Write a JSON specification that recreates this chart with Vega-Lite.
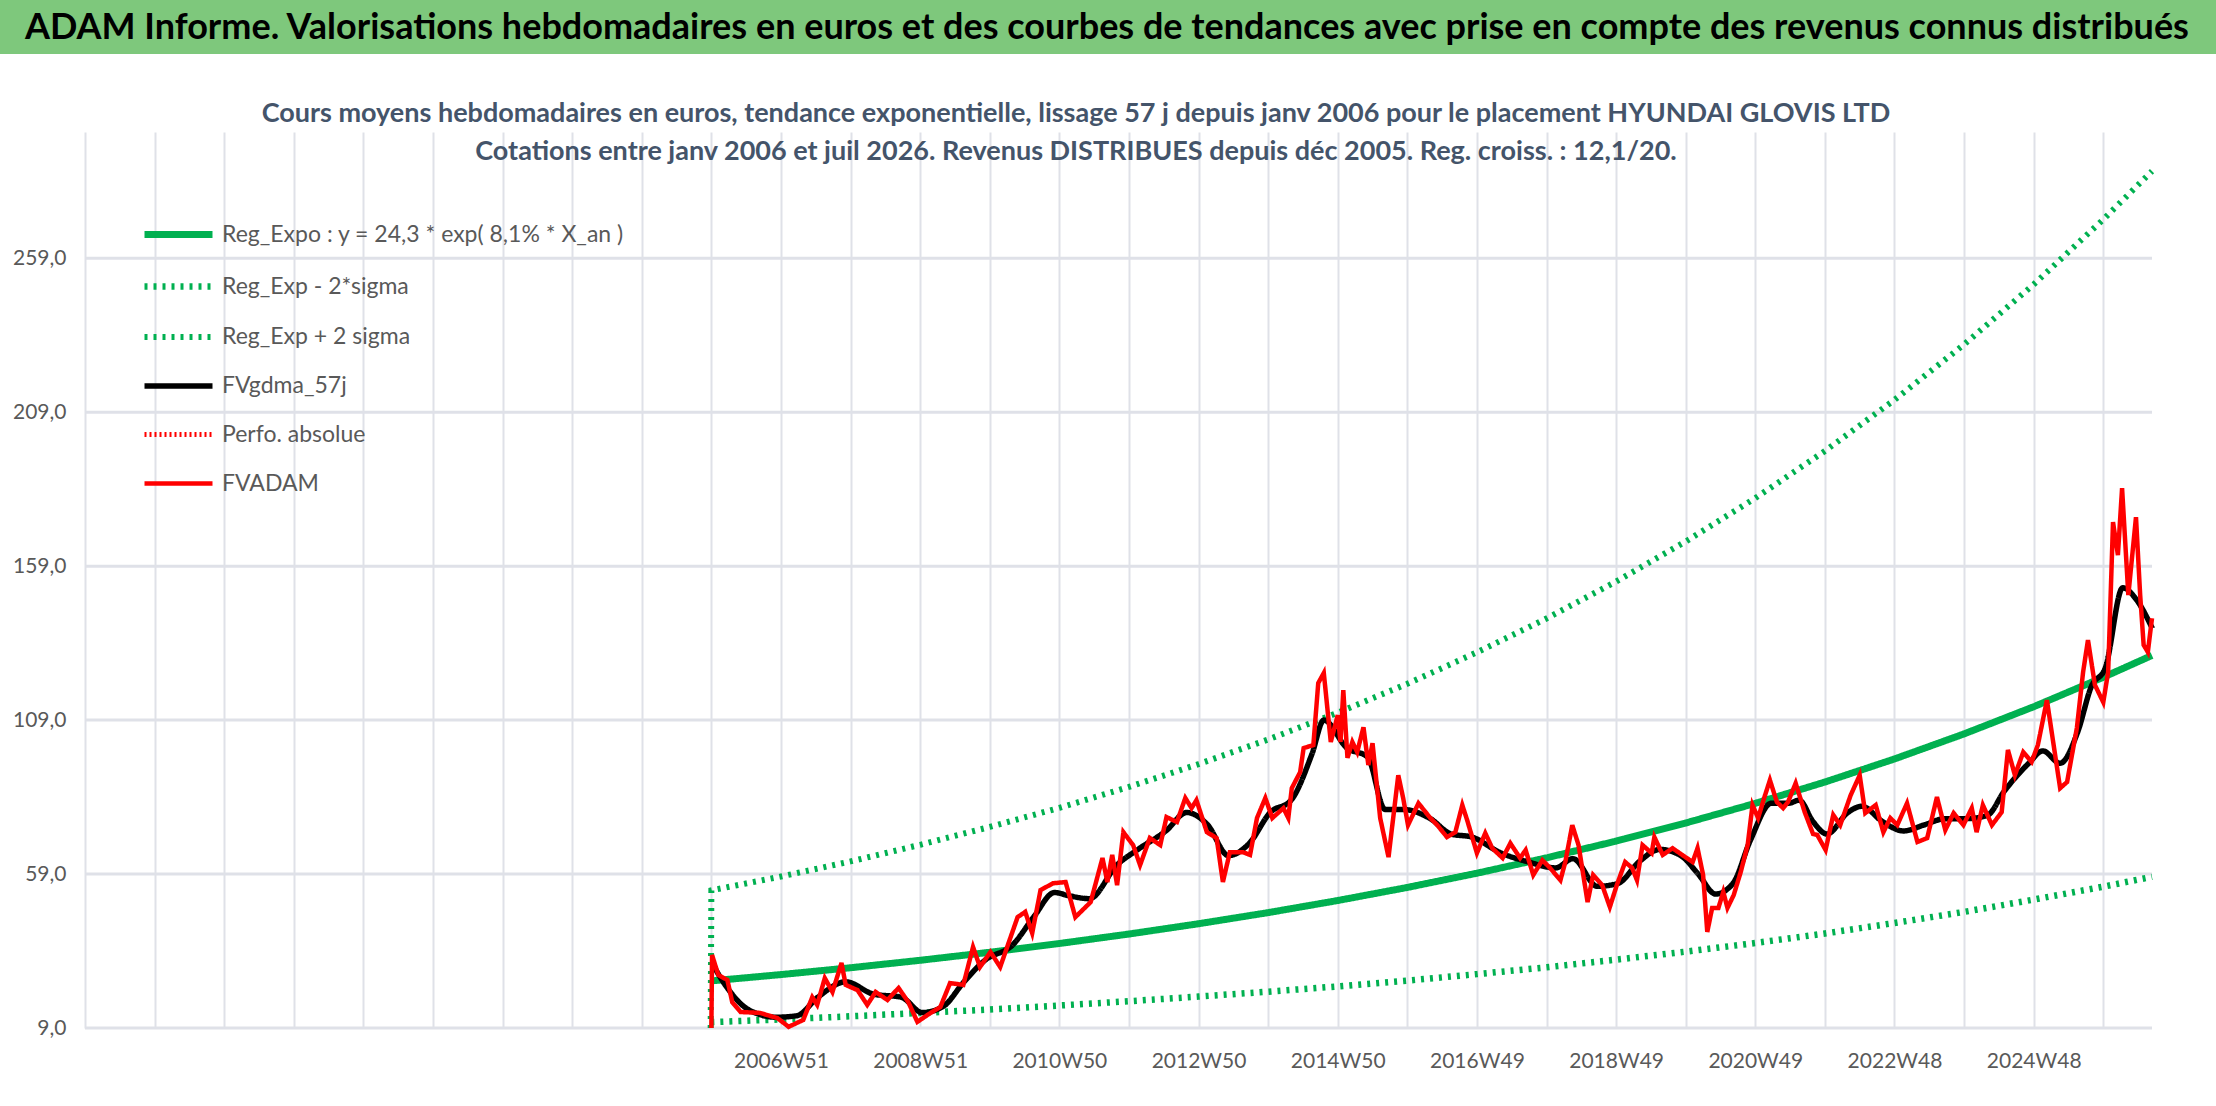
{
  "$schema": "https://vega.github.io/schema/vega-lite/v6.json",
  "background": "white",
  "padding": 0,
  "spacing": 46,
  "datasets": {
    "red": [
      {"t":2005.97,"v":9},{"t":2005.98,"v":32.7},{"t":2006.07,"v":26.2},{"t":2006.2,"v":24.6},{"t":2006.27,"v":17.4},{"t":2006.39,"v":14.2},{"t":2006.67,"v":13.9},{"t":2006.92,"v":12.2},{"t":2007.08,"v":9.4},{"t":2007.29,"v":11.6},{"t":2007.42,"v":19},{"t":2007.49,"v":16.5},{"t":2007.6,"v":25.2},{"t":2007.71,"v":20.7},{"t":2007.84,"v":30.1},{"t":2007.9,"v":23},{"t":2008.07,"v":21.3},{"t":2008.21,"v":16.5},{"t":2008.33,"v":20.7},{"t":2008.5,"v":18.1},{"t":2008.66,"v":22},{"t":2008.8,"v":17.4},{"t":2008.93,"v":11},{"t":2009.12,"v":13.9},{"t":2009.26,"v":15.8},{"t":2009.4,"v":23.6},{"t":2009.59,"v":23},{"t":2009.73,"v":35.3},{"t":2009.83,"v":28.8},{"t":2009.98,"v":33.7},{"t":2010.12,"v":28.8},{"t":2010.37,"v":45},{"t":2010.48,"v":46.7},{"t":2010.58,"v":39.8},{"t":2010.7,"v":53.8},{"t":2010.88,"v":56},{"t":2011.06,"v":56.4},{"t":2011.2,"v":45},{"t":2011.42,"v":49.9},{"t":2011.59,"v":64.2},{"t":2011.66,"v":56.4},{"t":2011.73,"v":65.2},{"t":2011.8,"v":55.4},{"t":2011.89,"v":72.6},{"t":2012.03,"v":68.4},{"t":2012.13,"v":61.9},{"t":2012.27,"v":70.7},{"t":2012.42,"v":68.4},{"t":2012.51,"v":77.5},{"t":2012.66,"v":75.9},{"t":2012.78,"v":83.7},{"t":2012.87,"v":80.4},{"t":2012.94,"v":83},{"t":2013.09,"v":72.6},{"t":2013.23,"v":70.7},{"t":2013.32,"v":56.4},{"t":2013.42,"v":66.1},{"t":2013.61,"v":66.1},{"t":2013.71,"v":65.2},{"t":2013.81,"v":77.2},{"t":2013.93,"v":83.7},{"t":2014.03,"v":77.2},{"t":2014.19,"v":80.4},{"t":2014.26,"v":77.2},{"t":2014.31,"v":86.9},{"t":2014.43,"v":92.1},{"t":2014.48,"v":99.9},{"t":2014.62,"v":100.9},{"t":2014.69,"v":121},{"t":2014.77,"v":124.3},{"t":2014.87,"v":101.9},{"t":2014.97,"v":110.6},{"t":2015.01,"v":101.9},{"t":2015.05,"v":118.7},{"t":2015.11,"v":96.7},{"t":2015.18,"v":101.9},{"t":2015.25,"v":98.6},{"t":2015.34,"v":106.7},{"t":2015.41,"v":94.4},{"t":2015.47,"v":101.5},{"t":2015.58,"v":77.2},{"t":2015.7,"v":64.5},{"t":2015.84,"v":91.1},{"t":2015.91,"v":83.7},{"t":2015.98,"v":74.9},{"t":2016.13,"v":82},{"t":2016.3,"v":77.2},{"t":2016.4,"v":74.9},{"t":2016.54,"v":71},{"t":2016.66,"v":72.6},{"t":2016.76,"v":81.4},{"t":2016.83,"v":76.5},{"t":2016.97,"v":65.8},{"t":2017.09,"v":72.3},{"t":2017.19,"v":67.4},{"t":2017.34,"v":64.2},{"t":2017.45,"v":69},{"t":2017.59,"v":64.2},{"t":2017.67,"v":66.8},{"t":2017.78,"v":58.7},{"t":2017.91,"v":63.5},{"t":2018.02,"v":61},{"t":2018.17,"v":57},{"t":2018.24,"v":62.9},{"t":2018.34,"v":74.9},{"t":2018.43,"v":68.4},{"t":2018.56,"v":49.9},{"t":2018.64,"v":58.7},{"t":2018.77,"v":55.4},{"t":2018.88,"v":48.3},{"t":2018.98,"v":55.4},{"t":2019.1,"v":62.9},{"t":2019.2,"v":61},{"t":2019.27,"v":57},{"t":2019.35,"v":68.4},{"t":2019.48,"v":65.8},{"t":2019.52,"v":71},{"t":2019.64,"v":65.2},{"t":2019.78,"v":67.4},{"t":2019.92,"v":65.2},{"t":2020.07,"v":62.9},{"t":2020.14,"v":67.4},{"t":2020.22,"v":58.7},{"t":2020.28,"v":40.2},{"t":2020.35,"v":48},{"t":2020.44,"v":48},{"t":2020.51,"v":53.2},{"t":2020.57,"v":48},{"t":2020.66,"v":52.2},{"t":2020.76,"v":59.6},{"t":2020.86,"v":68.4},{"t":2020.93,"v":81.4},{"t":2021.01,"v":77.2},{"t":2021.11,"v":84.6},{"t":2021.18,"v":89.5},{"t":2021.28,"v":82.4},{"t":2021.37,"v":80.4},{"t":2021.44,"v":82.4},{"t":2021.55,"v":88.5},{"t":2021.68,"v":79.1},{"t":2021.8,"v":72},{"t":2021.86,"v":71.7},{"t":2021.98,"v":66.8},{"t":2022.09,"v":78.2},{"t":2022.19,"v":74.9},{"t":2022.34,"v":84.6},{"t":2022.47,"v":91.1},{"t":2022.55,"v":78.8},{"t":2022.7,"v":81.4},{"t":2022.81,"v":72.6},{"t":2022.91,"v":77.2},{"t":2023.01,"v":74.9},{"t":2023.15,"v":82},{"t":2023.3,"v":69.4},{"t":2023.44,"v":70.7},{"t":2023.58,"v":84},{"t":2023.7,"v":73.3},{"t":2023.82,"v":78.8},{"t":2023.96,"v":74.9},{"t":2024.08,"v":80.4},{"t":2024.15,"v":72.6},{"t":2024.24,"v":81.4},{"t":2024.37,"v":74.9},{"t":2024.51,"v":79.1},{"t":2024.6,"v":99.3},{"t":2024.7,"v":91.1},{"t":2024.82,"v":98.6},{"t":2024.94,"v":95.4},{"t":2025.03,"v":100.9},{"t":2025.16,"v":115.5},{"t":2025.25,"v":101.9},{"t":2025.35,"v":86.9},{"t":2025.45,"v":88.9},{"t":2025.59,"v":106.4},{"t":2025.68,"v":124.6},{"t":2025.75,"v":135},{"t":2025.85,"v":120.4},{"t":2025.97,"v":114.8},{"t":2026.04,"v":124.6},{"t":2026.11,"v":173.3},{"t":2026.18,"v":162.6},{"t":2026.24,"v":184.3},{"t":2026.33,"v":149.6},{"t":2026.44,"v":174.9},{"t":2026.5,"v":149.6},{"t":2026.55,"v":133.4},{"t":2026.61,"v":131.1},{"t":2026.67,"v":142.1}
    ],
    "black": [
      {"t":2005.98,"v":30},{"t":2006.2,"v":22},{"t":2006.5,"v":15},{"t":2006.9,"v":12.5},{"t":2007.2,"v":13},{"t":2007.5,"v":19},{"t":2007.9,"v":24},{"t":2008.3,"v":20},{"t":2008.7,"v":19},{"t":2009.0,"v":14},{"t":2009.3,"v":16},{"t":2009.6,"v":24},{"t":2009.9,"v":31},{"t":2010.3,"v":36},{"t":2010.6,"v":45},{"t":2010.9,"v":53},{"t":2011.1,"v":52},{"t":2011.4,"v":51},{"t":2011.8,"v":62},{"t":2012.1,"v":67},{"t":2012.5,"v":73},{"t":2012.8,"v":79},{"t":2013.1,"v":75},{"t":2013.4,"v":65},{"t":2013.7,"v":69},{"t":2014.0,"v":79},{"t":2014.3,"v":83},{"t":2014.6,"v":98},{"t":2014.77,"v":109},{"t":2015.1,"v":100},{"t":2015.4,"v":97},{"t":2015.65,"v":80},{"t":2015.9,"v":80},{"t":2016.3,"v":77},{"t":2016.6,"v":72},{"t":2016.9,"v":71},{"t":2017.3,"v":66},{"t":2017.7,"v":63},{"t":2018.1,"v":61},{"t":2018.35,"v":64},{"t":2018.7,"v":55},{"t":2019.0,"v":56},{"t":2019.3,"v":63},{"t":2019.6,"v":67},{"t":2019.9,"v":65},{"t":2020.15,"v":59},{"t":2020.4,"v":52.5},{"t":2020.65,"v":56},{"t":2020.9,"v":70},{"t":2021.2,"v":82},{"t":2021.45,"v":82},{"t":2021.6,"v":83},{"t":2021.8,"v":76},{"t":2022.0,"v":72},{"t":2022.3,"v":79},{"t":2022.5,"v":81},{"t":2022.8,"v":76},{"t":2023.1,"v":73},{"t":2023.4,"v":75},{"t":2023.7,"v":77},{"t":2024.0,"v":77},{"t":2024.3,"v":78},{"t":2024.55,"v":86},{"t":2024.9,"v":95},{"t":2025.1,"v":99},{"t":2025.35,"v":95},{"t":2025.6,"v":105},{"t":2025.8,"v":120},{"t":2026.0,"v":126},{"t":2026.25,"v":152},{"t":2026.45,"v":148},{"t":2026.67,"v":139}
    ],
    "trend": [
      {"t":2005.97,"v":24.3},{"t":2006.97,"v":26.35},{"t":2007.97,"v":28.57},{"t":2008.97,"v":30.99},{"t":2009.97,"v":33.6},{"t":2010.97,"v":36.44},{"t":2011.97,"v":39.52},{"t":2012.97,"v":42.86},{"t":2013.97,"v":46.47},{"t":2014.97,"v":50.4},{"t":2015.97,"v":54.65},{"t":2016.97,"v":59.27},{"t":2017.97,"v":64.27},{"t":2018.97,"v":69.69},{"t":2019.97,"v":75.58},{"t":2020.97,"v":81.96},{"t":2021.97,"v":88.88},{"t":2022.97,"v":96.38},{"t":2023.97,"v":104.52},{"t":2024.97,"v":113.34},{"t":2025.97,"v":122.91},{"t":2026.67,"v":130.0}
    ],
    "up": [
      {"t":2005.96,"v":9},{"t":2005.97,"v":53.7},{"t":2006.97,"v":58.2},{"t":2007.97,"v":63.1},{"t":2008.97,"v":68.5},{"t":2009.97,"v":74.3},{"t":2010.97,"v":80.5},{"t":2011.97,"v":87.3},{"t":2012.97,"v":94.7},{"t":2013.97,"v":102.7},{"t":2014.97,"v":111.4},{"t":2015.97,"v":120.8},{"t":2016.97,"v":131.0},{"t":2017.97,"v":142.0},{"t":2018.97,"v":154.0},{"t":2019.97,"v":167.0},{"t":2020.97,"v":181.1},{"t":2021.97,"v":196.4},{"t":2022.97,"v":213.0},{"t":2023.97,"v":231.0},{"t":2024.97,"v":250.5},{"t":2025.97,"v":271.6},{"t":2026.67,"v":287.3}
    ],
    "low": [
      {"t":2005.97,"v":10.9},{"t":2006.97,"v":11.8},{"t":2007.97,"v":12.8},{"t":2008.97,"v":13.9},{"t":2009.97,"v":15.0},{"t":2010.97,"v":16.3},{"t":2011.97,"v":17.7},{"t":2012.97,"v":19.2},{"t":2013.97,"v":20.8},{"t":2014.97,"v":22.5},{"t":2015.97,"v":24.4},{"t":2016.97,"v":26.5},{"t":2017.97,"v":28.7},{"t":2018.97,"v":31.2},{"t":2019.97,"v":33.8},{"t":2020.97,"v":36.6},{"t":2021.97,"v":39.7},{"t":2022.97,"v":43.1},{"t":2023.97,"v":46.7},{"t":2024.97,"v":50.7},{"t":2025.97,"v":54.9},{"t":2026.67,"v":58.1}
    ],
    "hlines": [{"a": 1996.97, "b": 2026.67, "v": 9}, {"a": 1996.97, "b": 2026.67, "v": 59}, {"a": 1996.97, "b": 2026.67, "v": 109}, {"a": 1996.97, "b": 2026.67, "v": 159}, {"a": 1996.97, "b": 2026.67, "v": 209}, {"a": 1996.97, "b": 2026.67, "v": 259}]
  },
  "vconcat": [
    {
      "width": 2216,
      "height": 54,
      "view": {"fill": "#7ec87c", "stroke": null},
      "data": {"values": [{"txt": "ADAM Informe. Valorisations hebdomadaires en euros et des courbes de tendances avec prise en compte des revenus connus distribués"}]},
      "mark": {"type": "text", "align": "left", "baseline": "middle", "x": 25, "y": 28, "font": "Lato", "fontWeight": "bold", "fontSize": 36, "color": "black"},
      "encoding": {"text": {"field": "txt"}}
    },
    {
      "width": 2152,
      "height": 896,
      "view": {"stroke": null},
      "title": {
        "text": ["Cours moyens hebdomadaires en euros, tendance exponentielle, lissage 57 j depuis janv 2006 pour le placement HYUNDAI GLOVIS LTD", "Cotations entre janv 2006 et juil 2026. Revenus DISTRIBUES depuis déc 2005. Reg. croiss. : 12,1/20."],
        "font": "Lato",
        "fontWeight": "bold",
        "fontSize": 27,
        "lineHeight": 38,
        "color": "#44546a",
        "anchor": "middle",
        "offset": 8,
        "dy": 42
      },
      "encoding": {
        "x": {
          "field": "t", "type": "quantitative",
          "scale": {"domain": [1995.7487, 2026.67], "nice": false, "zero": false},
          "axis": {
            "title": null, "domain": false, "ticks": false,
            "values": [1996.97,1997.97,1998.97,1999.97,2000.97,2001.97,2002.97,2003.97,2004.97,2005.97,2006.97,2007.97,2008.97,2009.97,2010.97,2011.97,2012.97,2013.97,2014.97,2015.97,2016.97,2017.97,2018.97,2019.97,2020.97,2021.97,2022.97,2023.97,2024.97,2025.97],
            "labelExpr": "floor(datum.value) >= 2006 && floor(datum.value) % 2 == 0 ? floor(datum.value) + 'W' + (floor(datum.value) < 2010 ? '51' : floor(datum.value) < 2016 ? '50' : floor(datum.value) < 2022 ? '49' : '48') : ''",
            "labelFont": "Lato", "labelFontSize": 21, "labelColor": "#595959",
            "labelPadding": 22, "labelOverlap": false,
            "gridColor": "#dfe1e8", "gridWidth": 2
          }
        },
        "y": {
          "field": "v", "type": "quantitative",
          "scale": {"domain": [9, 300], "nice": false, "zero": false},
          "axis": {
            "title": null, "domain": false, "ticks": false, "grid": false,
            "values": [9, 59, 109, 159, 209, 259],
            "labelExpr": "replace(format(datum.value, '.1f'), '.', ',')",
            "labelFont": "Lato", "labelFontSize": 21, "labelColor": "#595959",
            "labelPadding": -66, "minExtent": 0, "maxExtent": 0
          }
        }
      },
      "layer": [
        {"data": {"name": "hlines"}, "mark": {"type": "rule", "color": "#dfe1e8", "strokeWidth": 3}, "encoding": {"x": {"field": "a", "type": "quantitative"}, "x2": {"field": "b"}, "y": {"field": "v", "type": "quantitative"}}},
        {"data": {"name": "low"}, "mark": {"type": "line"}, "encoding": {
          "color": {"datum": "Reg_Exp - 2*sigma", "type": "nominal",
            "scale": {
              "domain": ["Reg_Expo : y = 24,3 * exp( 8,1% *  X_an )", "Reg_Exp - 2*sigma", "Reg_Exp + 2 sigma", "FVgdma_57j", "Perfo. absolue", "FVADAM"],
              "range": ["#00b050", "#00b050", "#00b050", "#000000", "#ff0000", "#ff0000"]
            },
            "legend": {
              "title": null, "orient": "none", "legendX": 141, "legendY": 197,
              "symbolType": "M-1,0H1", "symbolSize": 4624,
              "labelFont": "Lato", "labelFontSize": 23, "labelColor": "#595959",
              "labelOffset": 6, "rowPadding": -3, "labelLimit": 600
            }
          },
          "strokeDash": {"datum": "Reg_Exp - 2*sigma", "type": "nominal",
            "scale": {
              "domain": ["Reg_Expo : y = 24,3 * exp( 8,1% *  X_an )", "Reg_Exp - 2*sigma", "Reg_Exp + 2 sigma", "FVgdma_57j", "Perfo. absolue", "FVADAM"],
              "range": [[1, 0], [3, 6], [3, 6], [1, 0], [2, 3], [1, 0]]
            }
          },
          "strokeWidth": {"datum": "Reg_Exp - 2*sigma", "type": "nominal",
            "scale": {
              "domain": ["Reg_Expo : y = 24,3 * exp( 8,1% *  X_an )", "Reg_Exp - 2*sigma", "Reg_Exp + 2 sigma", "FVgdma_57j", "Perfo. absolue", "FVADAM"],
              "range": [7, 4.5, 4.5, 3.5, 2.5, 5.5]
            }
          }
        }},
        {"data": {"name": "up"}, "mark": {"type": "line"}, "encoding": {"color": {"datum": "Reg_Exp + 2 sigma", "type": "nominal"}, "strokeDash": {"datum": "Reg_Exp + 2 sigma", "type": "nominal"}, "strokeWidth": {"datum": "Reg_Exp + 2 sigma", "type": "nominal"}}},
        {"data": {"values": []}, "mark": {"type": "line"}, "encoding": {"color": {"datum": "Perfo. absolue", "type": "nominal"}, "strokeDash": {"datum": "Perfo. absolue", "type": "nominal"}, "strokeWidth": {"datum": "Perfo. absolue", "type": "nominal"}}},
        {"data": {"name": "trend"}, "mark": {"type": "line"}, "encoding": {"color": {"datum": "Reg_Expo : y = 24,3 * exp( 8,1% *  X_an )", "type": "nominal"}, "strokeDash": {"datum": "Reg_Expo : y = 24,3 * exp( 8,1% *  X_an )", "type": "nominal"}, "strokeWidth": {"datum": "Reg_Expo : y = 24,3 * exp( 8,1% *  X_an )", "type": "nominal"}}},
        {"data": {"name": "black"}, "mark": {"type": "line", "interpolate": "monotone"}, "encoding": {"color": {"datum": "FVgdma_57j", "type": "nominal"}, "strokeDash": {"datum": "FVgdma_57j", "type": "nominal"}, "strokeWidth": {"datum": "FVgdma_57j", "type": "nominal"}}},
        {"data": {"name": "red"}, "mark": {"type": "line"}, "encoding": {"color": {"datum": "FVADAM", "type": "nominal"}, "strokeDash": {"datum": "FVADAM", "type": "nominal"}, "strokeWidth": {"datum": "FVADAM", "type": "nominal"}}}
      ]
    }
  ]
}
